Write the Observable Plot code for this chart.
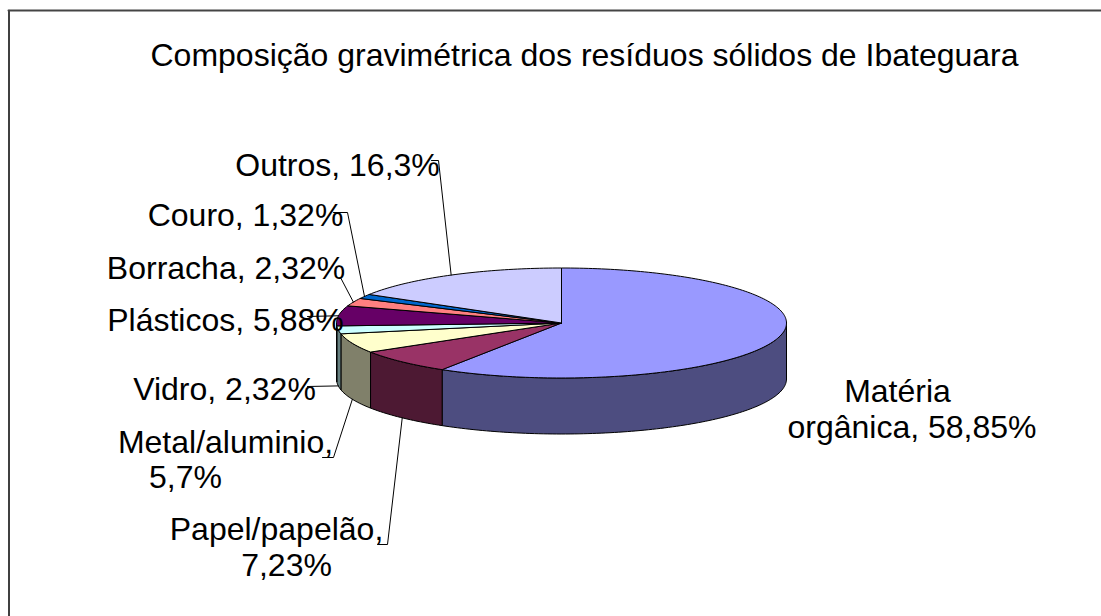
<!DOCTYPE html>
<html><head><meta charset="utf-8">
<script src="https://cdn.jsdelivr.net/npm/d3@7"></script>
<script src="https://cdn.jsdelivr.net/npm/@observablehq/plot@0.6"></script>
<style>html,body{margin:0;padding:0;background:#fff}svg{display:block}</style>
</head><body><div id="chart"></div>
<script>
const categories = ["Matéria orgânica","Papel/papelão","Metal/aluminio","Vidro","Plásticos","Borracha","Couro","Outros"];
const shares = [58.85,7.23,5.7,2.32,5.88,2.32,1.32,16.3];
const topColors = ["#9999FF","#993366","#FFFFCC","#CCFFFF","#660066","#FF8080","#0066CC","#CCCCFF"];
const sideColors = ["#4D4D80","#4D1933","#80806A","#668080","#330033","#804040","#003366","#666680"];
const titleText = "Composição gravimétrica dos resíduos sólidos de Ibateguara";

// layout
const W=1101,H=616,cx=561,cy=322.5,rx=225,ry=55,depth=56;
const fs=32;
const labelLines=[
 [[{t:"Matéria",x:897,y:401},{t:"orgânica, 58,85%",x:911.5,y:437}],[]],
 [[{t:"Papel/papelão,",x:276,y:539},{t:"7,23%",x:286,y:575}],[[377,544],[387,544]]],
 [[{t:"Metal/aluminio,",x:225,y:452},{t:"5,7%",x:185,y:487}],[[322,457],[333,457]]],
 [[{t:"Vidro, 2,32%",x:224,y:399}],[[307,386]]],
 [[{t:"Plásticos, 5,88%",x:225,y:330}],[[307,316]]],
 [[{t:"Borracha, 2,32%",x:225.5,y:278}],[[340,277]]],
 [[{t:"Couro, 1,32%",x:245,y:225}],[[333,212],[347,212]]],
 [[{t:"Outros, 16,3%",x:337,y:175}],[[431,160],[438,160]]]
];

const total=d3.sum(shares);
const cum=d3.cumsum(shares);
const toAngle=s=>s/total*2*Math.PI;
const onRim=(a,dy=0)=>({x:cx+rx*Math.sin(a),y:cy-ry*Math.cos(a)+dy});
const arc=(a0,a1,dy=0)=>{const n=Math.max(2,Math.ceil((a1-a0)/0.02));return d3.range(n+1).map(i=>onRim(a0+(a1-a0)*i/n,dy));};
const slices=categories.map((c,i)=>({name:c,a0:toAngle(i?cum[i-1]:0),a1:toAngle(cum[i]),top:topColors[i],side:sideColors[i],i}));

const marks=[];
// frame: only the left and top edges show
marks.push(Plot.line([{x:8.5,y:616},{x:8.5,y:10}],{x:"x",y:"y",stroke:"#000",strokeWidth:1.5}));
marks.push(Plot.line([{x:8,y:10},{x:1101,y:10}],{x:"x",y:"y",stroke:"#444",strokeWidth:2}));
// front wall
for(const s of slices){
  const a0=Math.max(s.a0,Math.PI/2),a1=Math.min(s.a1,3*Math.PI/2);
  if(a1<=a0)continue;
  const upper=arc(a0,a1),lower=arc(a0,a1,depth).reverse();
  const poly=[...upper,...lower,upper[0]];
  marks.push(Plot.line(poly,{x:"x",y:"y",fill:s.side,stroke:"#000",strokeWidth:1}));
}
// top
for(const s of slices){
  const poly=[{x:cx,y:cy},...arc(s.a0,s.a1),{x:cx,y:cy}];
  marks.push(Plot.line(poly,{x:"x",y:"y",fill:s.top,stroke:"#000",strokeWidth:1}));
}
// leaders + labels
slices.forEach((s,i)=>{
  const [lines,elbow]=labelLines[i];
  if(elbow.length){
    const mid=(s.a0+s.a1)/2;
    const onFront=Math.cos(mid)<0 && s.i<4;
    const end=onRim(mid,onFront?depth:0);
    marks.push(Plot.line([...elbow.map(([x,y])=>({x,y})),end],{x:"x",y:"y",stroke:"#000",strokeWidth:1}));
  }
  marks.push(Plot.text(lines,{x:"x",y:"y",text:"t",textAnchor:"middle",lineAnchor:"bottom",fontSize:fs,fontFamily:"'Liberation Sans'",fill:"#000"}));
});
marks.push(Plot.text([titleText],{x:()=>584,y:()=>65,text:d=>d,textAnchor:"middle",lineAnchor:"bottom",fontSize:fs,fontFamily:"'Liberation Sans'",fill:"#000"}));

document.getElementById("chart").append(Plot.plot({
  width:W,height:H,margin:0,
  x:{type:"linear",domain:[0,W],range:[0,W],axis:null},
  y:{type:"linear",domain:[0,H],range:[0,H],axis:null},
  marks
}));
</script></body></html>
